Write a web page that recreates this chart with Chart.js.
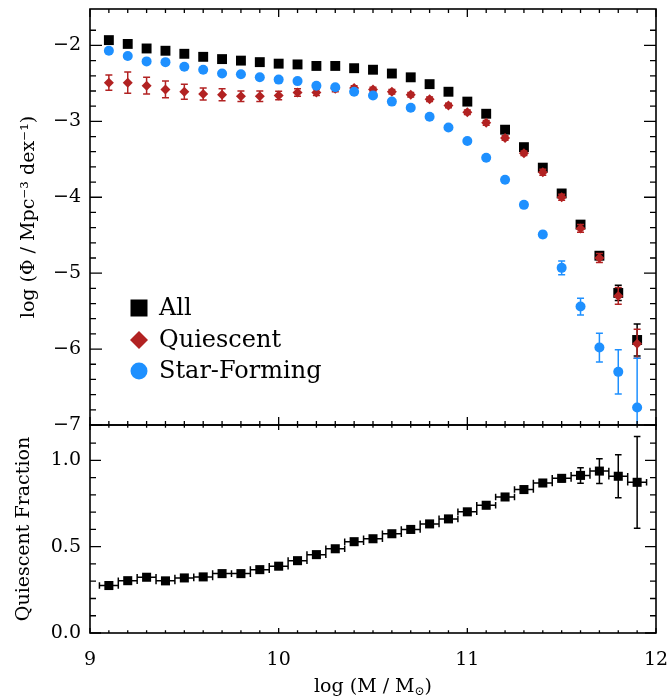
<!DOCTYPE html>
<html>
<head>
<meta charset="utf-8">
<script src="https://cdn.jsdelivr.net/npm/chart.js@4.4.1/dist/chart.umd.min.js"></script>
<style>
  body { margin: 0; background: #fff; }
  #wrap { position: relative; width: 672px; height: 698px; }
  #wrap canvas { position: absolute; left: 0; }
</style>
</head>
<body>
<div id="wrap">
  <canvas id="massFn" width="672" height="440" style="top:0"></canvas>
  <canvas id="qFrac" width="672" height="283" style="top:415px"></canvas>
</div>
<script>
// stellar mass bins (log M / Msun)
const logMass = [9.1, 9.2, 9.3, 9.4, 9.5, 9.6, 9.7, 9.8, 9.9, 10.0, 10.1, 10.2, 10.3, 10.4, 10.5,
  10.6, 10.7, 10.8, 10.9, 11.0, 11.1, 11.2, 11.3, 11.4, 11.5, 11.6, 11.7, 11.8, 11.9];
const binHalfWidth = 0.05;

// log Phi for each population
const phiAll = [-1.93, -1.98, -2.04, -2.07, -2.11, -2.15, -2.18, -2.20, -2.22, -2.24, -2.25, -2.27, -2.27, -2.30, -2.32,
  -2.37, -2.42, -2.51, -2.61, -2.74, -2.90, -3.11, -3.34, -3.61, -3.95, -4.36, -4.77, -5.26, -5.88];
const phiAllErr = [0.01, 0.01, 0.01, 0.01, 0.01, 0.01, 0.01, 0.01, 0.01, 0.01, 0.01, 0.01, 0.01, 0.01, 0.01,
  0.01, 0.01, 0.01, 0.01, 0.01, 0.01, 0.01, 0.01, 0.015, 0.02, 0.03, 0.04, 0.10, 0.21];

const phiQ = [-2.49, -2.49, -2.53, -2.58, -2.61, -2.64, -2.65, -2.67, -2.67, -2.66, -2.62, -2.62, -2.57, -2.56, -2.58,
  -2.61, -2.65, -2.71, -2.79, -2.88, -3.02, -3.22, -3.42, -3.67, -4.00, -4.41, -4.80, -5.30, -5.93];
const phiQErr = [0.10, 0.14, 0.11, 0.11, 0.10, 0.08, 0.08, 0.07, 0.07, 0.055, 0.05, 0.04, 0.04, 0.03, 0.03,
  0.03, 0.03, 0.03, 0.03, 0.03, 0.03, 0.03, 0.03, 0.04, 0.04, 0.05, 0.06, 0.11, 0.19];

const phiSF = [-2.07, -2.14, -2.21, -2.22, -2.28, -2.32, -2.37, -2.38, -2.42, -2.45, -2.47, -2.53, -2.55, -2.61, -2.66,
  -2.74, -2.82, -2.94, -3.08, -3.26, -3.48, -3.77, -4.10, -4.49, -4.93, -5.44, -5.98, -6.30, -6.77];
const phiSFErr = [0.01, 0.01, 0.01, 0.01, 0.01, 0.01, 0.01, 0.01, 0.01, 0.01, 0.01, 0.01, 0.01, 0.01, 0.01,
  0.01, 0.01, 0.01, 0.01, 0.01, 0.015, 0.02, 0.03, 0.04, 0.09, 0.11, 0.19, 0.29, 0.65];

// quiescent fraction
const qFrac = [0.275, 0.303, 0.323, 0.302, 0.319, 0.325, 0.344, 0.344, 0.367, 0.387, 0.419, 0.454, 0.488, 0.529, 0.546,
  0.575, 0.600, 0.632, 0.661, 0.702, 0.740, 0.788, 0.831, 0.869, 0.896, 0.913, 0.938, 0.908, 0.873];
const qFracErr = [0.01, 0.01, 0.01, 0.01, 0.01, 0.01, 0.01, 0.01, 0.01, 0.01, 0.01, 0.01, 0.01, 0.01, 0.01,
  0.01, 0.01, 0.01, 0.01, 0.01, 0.01, 0.01, 0.012, 0.015, 0.02, 0.045, 0.072, 0.124, 0.266];

const massTicks = [9, 10, 11, 12];
const phiTicks = [-7, -6, -5, -4, -3, -2];
const fracTicks = [0, 0.5, 1.0];

const legendLabels = ['All', 'Quiescent', 'Star-Forming'];
const colAll = '#000000';
const colQ = '#b22222';
const colSF = '#1e90ff';

Chart.defaults.font.family = "'DejaVu Serif', serif";
Chart.defaults.font.size = 19;
Chart.defaults.color = '#000';

const pts = (ys) => logMass.map((x, i) => ({ x, y: ys[i] }));
const minus = (s) => String(s).replace('-', '\u2212');

// keep the plot box fixed: no extra room reserved for overhanging tick labels
const noOverhang = (s) => {
  s.paddingTop = 0; s.paddingBottom = 0;
  s.paddingLeft = 0; s.paddingRight = 0;
};

// vertical / horizontal error bars, drawn right under each dataset's markers
const errorBars = {
  id: 'errorBars',
  beforeDatasetDraw(chart, args) {
    const ds = chart.data.datasets[args.index];
    if (!ds.errY && !ds.errX) return;
    const { ctx, chartArea: a } = chart;
    const xs = chart.scales.x, ys = chart.scales.y;
    const cap = ds.capHalf || 3.5;
    ctx.save();
    ctx.beginPath();
    ctx.rect(a.left, a.top, a.right - a.left, a.bottom - a.top);
    ctx.clip();
    ctx.strokeStyle = ds.backgroundColor;
    ctx.lineWidth = 1.5;
    ctx.beginPath();
    ds.data.forEach((p, i) => {
      const px = xs.getPixelForValue(p.x), py = ys.getPixelForValue(p.y);
      if (ds.errY) {
        const y0 = ys.getPixelForValue(p.y - ds.errY[i]);
        const y1 = ys.getPixelForValue(p.y + ds.errY[i]);
        ctx.moveTo(px, y0); ctx.lineTo(px, y1);
        ctx.moveTo(px - cap, y0); ctx.lineTo(px + cap, y0);
        ctx.moveTo(px - cap, y1); ctx.lineTo(px + cap, y1);
      }
      if (ds.errX) {
        const x0 = xs.getPixelForValue(p.x - ds.errX);
        const x1 = xs.getPixelForValue(p.x + ds.errX);
        ctx.moveTo(x0, py); ctx.lineTo(x1, py);
        ctx.moveTo(x0, py - cap); ctx.lineTo(x0, py + cap);
        ctx.moveTo(x1, py - cap); ctx.lineTo(x1, py + cap);
      }
    });
    ctx.stroke();
    ctx.restore();
  }
};

// box frame with inward ticks on all four sides
const frame = {
  id: 'frame',
  afterDraw(chart, args, o) {
    const { ctx, chartArea: a } = chart;
    const xs = chart.scales.x, ys = chart.scales.y;
    ctx.save();
    ctx.strokeStyle = '#000';
    ctx.lineWidth = 1.3;
    ctx.beginPath();
    const tickX = (v, len) => {
      const p = xs.getPixelForValue(v);
      ctx.moveTo(p, a.bottom); ctx.lineTo(p, a.bottom - len);
      ctx.moveTo(p, a.top); ctx.lineTo(p, a.top + len);
    };
    const tickY = (v, len) => {
      const p = ys.getPixelForValue(v);
      ctx.moveTo(a.left, p); ctx.lineTo(a.left + len, p);
      ctx.moveTo(a.right, p); ctx.lineTo(a.right - len, p);
    };
    const minors = (lo, hi, step, fn, len) => {
      const n = Math.round((hi - lo) / step);
      for (let k = 1; k < n; k++) fn(lo + k * step, len);
    };
    minors(xs.min, xs.max, o.xMinorStep, tickX, o.xLen[1]);
    minors(Math.ceil(ys.min / o.yMinorStep) * o.yMinorStep, ys.max, o.yMinorStep, tickY, o.yLen[1]);
    o.xMajor.forEach(v => tickX(v, o.xLen[0]));
    o.yMajor.forEach(v => tickY(v, o.yLen[0]));
    ctx.stroke();
    ctx.lineWidth = 1.6;
    ctx.strokeRect(a.left, a.top, a.right - a.left, a.bottom - a.top);
    ctx.restore();
  }
};

// symbol key in the lower left of the mass function panel
const symbolKey = {
  id: 'symbolKey',
  afterDraw(chart) {
    const { ctx, chartArea: a } = chart;
    const mx = a.left + 49, tx = a.left + 69;
    const rows = [a.bottom - 117, a.bottom - 85, a.bottom - 54];
    ctx.save();
    ctx.font = "24px 'DejaVu Serif', serif";
    ctx.textBaseline = 'middle';
    ctx.fillStyle = colAll;
    ctx.fillRect(mx - 8.5, rows[0] - 8.5, 17, 17);
    ctx.fillStyle = colQ;
    ctx.beginPath();
    ctx.moveTo(mx - 9, rows[1]); ctx.lineTo(mx, rows[1] - 9);
    ctx.lineTo(mx + 9, rows[1]); ctx.lineTo(mx, rows[1] + 9);
    ctx.closePath(); ctx.fill();
    ctx.fillStyle = colSF;
    ctx.beginPath(); ctx.arc(mx, rows[2], 8.5, 0, Math.PI * 2); ctx.fill();
    ctx.fillStyle = '#000';
    legendLabels.forEach((t, i) => ctx.fillText(t, tx, rows[i] + 1));
    ctx.restore();
  }
};

// x title with subscripted solar symbol
const massTitle = {
  id: 'massTitle',
  afterDraw(chart) {
    const { ctx, chartArea: a } = chart;
    const main = 'log (M / M', sub = '\u2299', tail = ')';
    ctx.save();
    ctx.fillStyle = '#000';
    ctx.textBaseline = 'alphabetic';
    const big = "19px 'DejaVu Serif', serif", small = "12px 'DejaVu Serif', serif";
    ctx.font = big;
    const w1 = ctx.measureText(main).width, w3 = ctx.measureText(tail).width;
    ctx.font = small;
    const w2 = ctx.measureText(sub).width;
    let x = (a.left + a.right) / 2 - (w1 + w2 + w3) / 2;
    const y = a.bottom + 59;
    ctx.font = big; ctx.fillText(main, x, y); x += w1;
    ctx.font = small; ctx.fillText(sub, x, y + 3); x += w2;
    ctx.font = big; ctx.fillText(tail, x, y);
    ctx.restore();
  }
};

const baseX = { type: 'linear', min: 9, max: 12 };

new Chart(document.getElementById('massFn'), {
  type: 'scatter',
  data: {
    datasets: [
      { label: legendLabels[0], data: pts(phiAll), errY: phiAllErr, order: 3,
        backgroundColor: colAll, borderColor: colAll, pointStyle: 'rect', pointRadius: 7, pointBorderWidth: 0 },
      { label: legendLabels[1], data: pts(phiQ), errY: phiQErr, order: 2,
        backgroundColor: colQ, borderColor: colQ, pointStyle: 'rectRot', pointRadius: 5, pointBorderWidth: 0 },
      { label: legendLabels[2], data: pts(phiSF), errY: phiSFErr, order: 1,
        backgroundColor: colSF, borderColor: colSF, pointStyle: 'circle', pointRadius: 5, pointBorderWidth: 0 }
    ]
  },
  options: {
    responsive: false,
    animation: false,
    events: [],
    layout: { padding: { top: 9, right: 16, bottom: 15, left: 0 } },
    scales: {
      x: { ...baseX, display: false },
      y: {
        type: 'linear', min: -7, max: -1.52,
        afterFit(s) { s.width = 90; noOverhang(s); },
        grid: { display: false, drawTicks: false },
        border: { display: false },
        ticks: { stepSize: 1, includeBounds: false, padding: 9, callback: v => minus(v) },
        title: { display: true, text: 'log (\u03a6 / Mpc\u207b\u00b3 dex\u207b\u00b9)', padding: { top: 18, bottom: 0 } }
      }
    },
    plugins: {
      legend: { display: false },
      tooltip: { enabled: false },
      frame: { xMajor: massTicks, yMajor: phiTicks, xMinorStep: 0.1, yMinorStep: 0.2, xLen: [8, 4], yLen: [12, 6] }
    }
  },
  plugins: [errorBars, frame, symbolKey]
});

new Chart(document.getElementById('qFrac'), {
  type: 'scatter',
  data: {
    datasets: [
      { label: 'Quiescent Fraction', data: pts(qFrac), errY: qFracErr, errX: binHalfWidth, capHalf: 3.3,
        backgroundColor: colAll, borderColor: colAll, pointStyle: 'rect', pointRadius: 6.4, pointBorderWidth: 0 }
    ]
  },
  options: {
    responsive: false,
    animation: false,
    events: [],
    layout: { padding: { top: 10, right: 16, bottom: 0, left: 0 } },
    scales: {
      x: {
        ...baseX,
        afterFit(s) { s.height = 65; noOverhang(s); },
        grid: { display: false, drawTicks: false },
        border: { display: false },
        ticks: { stepSize: 1, includeBounds: false, padding: 16, maxRotation: 0 }
      },
      y: {
        type: 'linear', min: 0, max: 1.205,
        afterFit(s) { s.width = 90; noOverhang(s); },
        grid: { display: false, drawTicks: false },
        border: { display: false },
        ticks: { stepSize: 0.5, includeBounds: false, padding: 9, callback: v => v.toFixed(1) },
        title: { display: true, text: 'Quiescent Fraction', padding: { top: 13, bottom: 0 } }
      }
    },
    plugins: {
      legend: { display: false },
      tooltip: { enabled: false },
      frame: { xMajor: massTicks, yMajor: fracTicks, xMinorStep: 0.1, yMinorStep: 0.1, xLen: [5, 2.7], yLen: [11, 6] }
    }
  },
  plugins: [errorBars, frame, massTitle]
});
</script>
</body>
</html>
